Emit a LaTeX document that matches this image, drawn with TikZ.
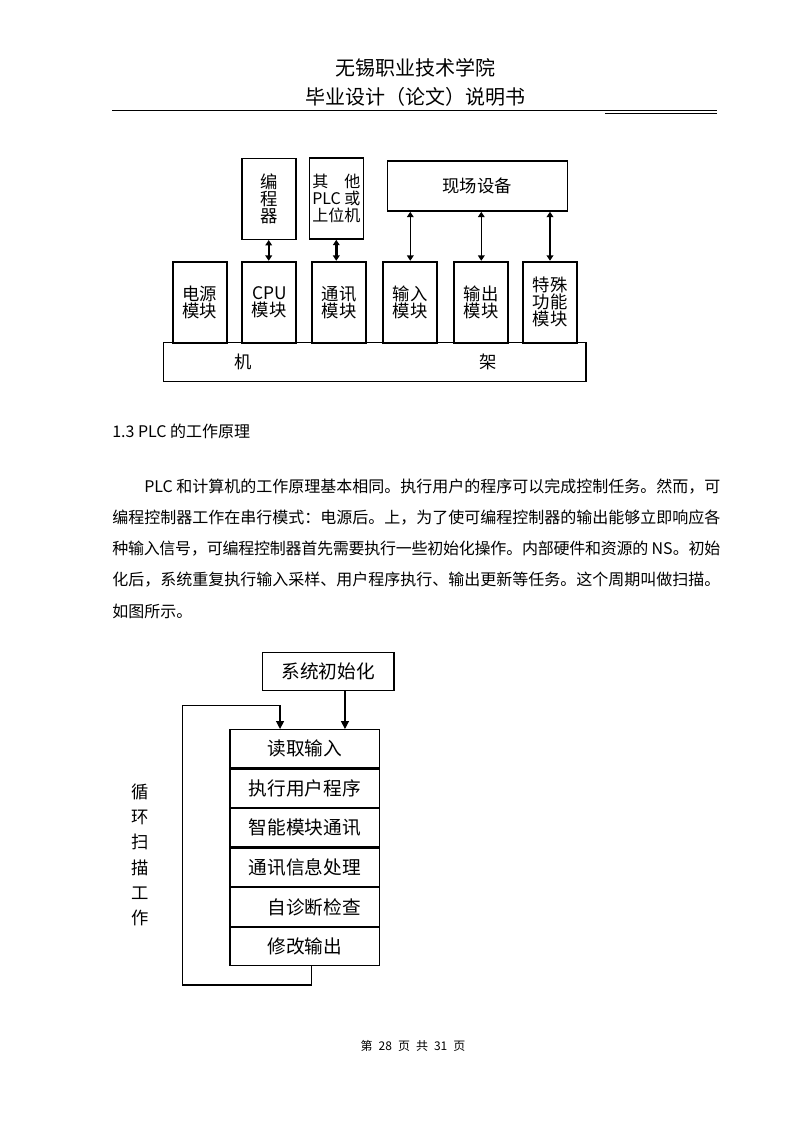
\documentclass[tikz,border=0pt]{standalone}
\usepackage{fontspec}
\setmainfont{Noto Sans CJK SC}
\usepackage{tikz}
\usetikzlibrary{arrows.meta,positioning}
\XeTeXlinebreaklocale "zh"
\XeTeXlinebreakskip=0pt plus 3pt minus 1pt
\newcommand{\fullline}[1]{\parfillskip=0pt\relax #1\par}

\begin{document}
\begin{tikzpicture}[x=0.75pt,y=-0.75pt,
  hd/.style={font=\fontsize{15}{16}\selectfont,inner sep=0pt},
  body/.style={anchor=west,inner sep=0pt,font=\fontsize{12}{14}\selectfont},
  par/.style={body,text width=456pt,align=justify},
  mod/.style={draw,line width=1.4pt,minimum width=40.5pt,minimum height=60.75pt,inner sep=0pt,align=center,font=\fontsize{13}{12.8}\selectfont},
  top/.style={mod,line width=1.2pt},
  rack/.style={draw,line width=1pt,minimum width=317pt,minimum height=29.25pt,inner sep=0pt},
  dar/.style={{Triangle[length=4pt,width=5pt]}-{Triangle[length=4pt,width=5pt]},line width=0.9pt},
  row/.style={draw,line width=0.9pt,minimum width=112pt,minimum height=28.75pt,inner sep=0pt,font=\fontsize{14}{15}\selectfont},
  ar/.style={-{Triangle[length=6pt,width=6pt]},line width=0.9pt}]

\fill[white] (0,0) rectangle (793,1122);
\useasboundingbox (0,0) rectangle (793,1122);

\node[hd] (t1) at (415,68) {无锡职业技术学院};
\node[hd] (t2) at (415,97) {毕业设计（论文）说明书};
\draw[line width=1pt] (112,110.7) -- (717,110.7);
\draw[line width=0.6pt] (605,113.5) -- (717,113.5);

\node[top] (prog) at (268.7,198.8) {编\\程\\器};
\node[top,font=\fontsize{12}{12.8}\selectfont] (host) at (336.3,198.5) {其\hspace{1em}他\\\makebox[3em][s]{PLC\hfill 或}\\上位机};
\node[top,minimum width=135pt,minimum height=37.5pt] (site) at (477.3,186) {现场设备};

\node[mod] (pwr) at (199.7,302.2) {电源\\模块};
\node[mod] (cpu) at (269.3,302.2) {CPU\\模块};
\node[mod] (com) at (339.3,302.2) {通讯\\模块};
\node[mod] (in) at (410.3,302.2) {输入\\模块};
\node[mod] (out) at (481.3,302.2) {输出\\模块};
\node[mod] (spec) at (550,302.2) {特殊\\功能\\模块};
\node[rack] (rack) at (374.7,362.2) {};
\node[mod,draw=none] (rk1) at (243,362) {机};
\node[mod,draw=none] (rk2) at (488,362) {架};

\foreach \a/\b in {prog/cpu,host/com} \draw[dar,line width=1.8pt] (\a.south) -- (\a.south |- \b.north);
\foreach \m in {in,out} \draw[dar] (\m.north) -- (\m.north |- site.south);
\draw[dar,line width=1.4pt] (spec.north) -- (spec.north |- site.south);

\node[body] (sec) at (112,431) {1.3 PLC 的工作原理};
\node[par] (p1) at (112,487) {\fullline{\hspace*{2em}PLC 和计算机的工作原理基本相同。执行用户的程序可以完成控制任务。然而，可}};
\node[par] (p2) at (112,518) {\fullline{编程控制器工作在串行模式：电源后。上，为了使可编程控制器的输出能够立即响应各}};
\node[par] (p3) at (112,549) {\fullline{种输入信号，可编程控制器首先需要执行一些初始化操作。内部硬件和资源的 NS。初始}};
\node[par] (p4) at (112,580) {\fullline{化后，系统重复执行输入采样、用户程序执行、输出更新等任务。这个周期叫做扫描。}};
\node[body] (p5) at (112,611) {如图所示。};

\node[row,minimum width=98.5pt,minimum height=28.8pt] (init) at (328.3,671.5) {系统初始化};
\node[row] (r1) at (304.7,748.8) {读取输入};
\node[row,below=0pt of r1] (r2) {执行用户程序};
\node[row,below=0pt of r2] (r3) {智能模块通讯};
\node[row,below=0pt of r3] (r4) {通讯信息处理};
\node[row,below=0pt of r4] (r5) {\hspace*{14pt}自诊断检查};
\node[row,below=0pt of r5] (r6) {修改输出};
\node[align=center,font=\fontsize{13}{19}\selectfont] (scan) at (140,855) {循\\环\\扫\\描\\工\\作};

\coordinate (c1) at (182.7,985);
\coordinate (c2) at (182.7,705.7);
\draw[ar] ([xshift=12.5pt]init.south) -- ([xshift=12.5pt]init.south |- r1.north);
\draw[ar] ([xshift=5.25pt]r6.south) |- (c1) -- (c2) -| ([xshift=-18.5pt]r1.north);

\node[font=\fontsize{9}{10}\selectfont] (foot) at (413,1046) {第\hspace{0.5em}28\hspace{0.5em}页\hspace{0.5em}共\hspace{0.5em}31\hspace{0.5em}页};
\end{tikzpicture}
\end{document}
